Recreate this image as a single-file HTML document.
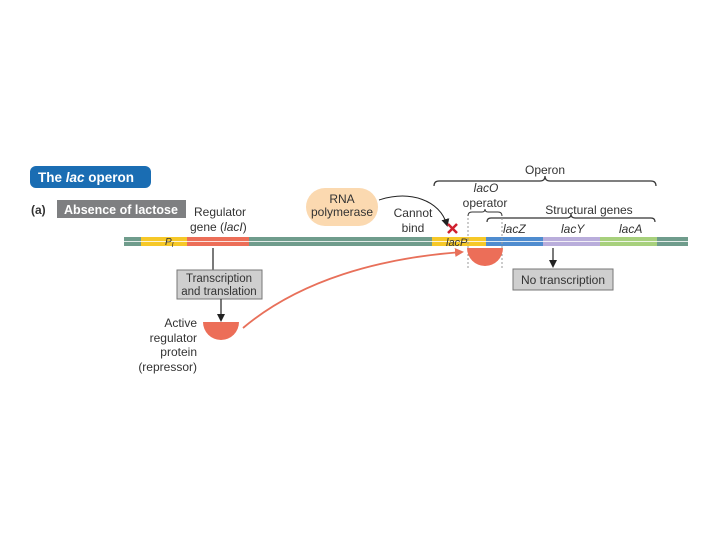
<!DOCTYPE html>
<html><head><style>
body{margin:0;background:#fff;width:720px;height:540px;overflow:hidden}
svg text{font-family:"Liberation Sans",sans-serif;}
</style></head><body>
<svg width="720" height="540" viewBox="0 0 720 540" xmlns="http://www.w3.org/2000/svg">
<defs>
<marker id="ab" markerWidth="8" markerHeight="8" refX="6" refY="4" orient="auto" markerUnits="userSpaceOnUse"><path d="M0,0 L8,4 L0,8 z" fill="#222"/></marker>
<marker id="ar" markerWidth="9" markerHeight="9" refX="7" refY="4.5" orient="auto" markerUnits="userSpaceOnUse"><path d="M0,0 L9,4.5 L0,9 z" fill="#e8705a"/></marker>
</defs>
<rect x="30" y="166" width="121" height="22" rx="6" fill="#1a6db3"/>
<text x="38" y="182" font-size="13.5" font-weight="bold" fill="#fff">The <tspan font-style="italic">lac</tspan> operon</text>
<text x="31" y="214" font-size="12" font-weight="bold" fill="#333">(a)</text>
<rect x="57" y="200" width="129" height="18" fill="#7e7f81"/>
<text x="121" y="214" font-size="12.5" font-weight="bold" fill="#fff" text-anchor="middle">Absence of lactose</text>
<text x="194" y="216" font-size="12" fill="#333">Regulator</text>
<text x="190" y="231" font-size="12" fill="#333">gene (<tspan font-style="italic">lacI</tspan>)</text>
<!-- DNA -->
<rect x="124" y="237" width="564" height="9" fill="#6f9c8c"/>
<rect x="141" y="237" width="46" height="9" fill="#f6c828"/>
<rect x="187" y="237" width="62" height="9" fill="#ec6e58"/>
<rect x="432" y="237" width="54" height="9" fill="#f6c828"/>
<rect x="486" y="237" width="57" height="9" fill="#4f8ccf"/>
<rect x="543" y="237" width="57" height="9" fill="#b9addb"/>
<rect x="600" y="237" width="57" height="9" fill="#a7d07c"/>
<line x1="124" y1="241.5" x2="688" y2="241.5" stroke="#fff" stroke-width="1" opacity="0.8"/>
<text x="165" y="245" font-size="10" font-style="italic" fill="#333">P<tspan font-size="7" dy="2">I</tspan></text>
<text x="446" y="246" font-size="11" font-style="italic" fill="#333">lacP</text>
<text x="503" y="233" font-size="12" font-style="italic" fill="#333">lacZ</text>
<text x="561" y="233" font-size="12" font-style="italic" fill="#333">lacY</text>
<text x="619" y="233" font-size="12" font-style="italic" fill="#333">lacA</text>
<!-- left flow -->
<line x1="213" y1="248" x2="213" y2="270" stroke="#222" stroke-width="1.2"/>
<rect x="177" y="270" width="85" height="29" fill="#cfcfcf" stroke="#777"/>
<text x="219" y="282" font-size="11.5" fill="#333" text-anchor="middle">Transcription</text>
<text x="219" y="295" font-size="11.5" fill="#333" text-anchor="middle">and translation</text>
<line x1="221" y1="299" x2="221" y2="320" stroke="#222" stroke-width="1.2" marker-end="url(#ab)"/>
<path d="M203,322 L239,322 A18,18 0 0 1 203,322 z" fill="#ec6e58"/>
<g font-size="12" fill="#333" text-anchor="end">
<text x="197" y="327">Active</text><text x="197" y="342">regulator</text><text x="197" y="356">protein</text><text x="197" y="371">(repressor)</text></g>
<path d="M243,328 C300,280 380,258 462,252" fill="none" stroke="#e8705a" stroke-width="1.8" marker-end="url(#ar)"/>
<!-- RNA pol -->
<rect x="306" y="188" width="72" height="38" rx="19" fill="#fbd9b0"/>
<text x="342" y="203" font-size="12" fill="#333" text-anchor="middle">RNA</text>
<text x="342" y="216" font-size="12" fill="#333" text-anchor="middle">polymerase</text>
<path d="M379,200 C410,190 440,200 447,225" fill="none" stroke="#222" stroke-width="1" marker-end="url(#ab)"/>
<text x="413" y="217" font-size="12" fill="#333" text-anchor="middle">Cannot</text>
<text x="413" y="232" font-size="12" fill="#333" text-anchor="middle">bind</text>
<path d="M448,224 L457,233 M457,224 L448,233" stroke="#d0202e" stroke-width="2.5"/>
<!-- operon brace -->
<path d="M434,186 Q434,181 439,181 L540,181 Q545,181 545,176 Q545,181 550,181 L651,181 Q656,181 656,186" fill="none" stroke="#333" stroke-width="1.2"/>
<text x="545" y="174" font-size="12" fill="#333" text-anchor="middle">Operon</text>
<text x="486" y="192" font-size="12" font-style="italic" fill="#333" text-anchor="middle">lacO</text>
<text x="485" y="207" font-size="12" fill="#333" text-anchor="middle">operator</text>
<path d="M468,216 Q468,212 472,212 L482,212 Q485,212 485,209 Q485,212 488,212 L498,212 Q502,212 502,216" fill="none" stroke="#333" stroke-width="1"/>
<path d="M487,222 Q487,218 491,218 L567,218 Q571,218 571,214 Q571,218 575,218 L651,218 Q655,218 655,222" fill="none" stroke="#333" stroke-width="1.2"/>
<text x="589" y="214" font-size="12" fill="#333" text-anchor="middle">Structural genes</text>
<line x1="468" y1="218" x2="468" y2="268" stroke="#999" stroke-dasharray="2,2"/>
<line x1="502" y1="218" x2="502" y2="268" stroke="#999" stroke-dasharray="2,2"/>
<path d="M467,248 L503,248 A18,18 0 0 1 467,248 z" fill="#ec6e58"/>
<line x1="553" y1="248" x2="553" y2="266" stroke="#222" stroke-width="1.2" marker-end="url(#ab)"/>
<rect x="513" y="269" width="100" height="21" fill="#cfcfcf" stroke="#777"/>
<text x="563" y="284" font-size="12" fill="#333" text-anchor="middle">No transcription</text>
</svg>
</body></html>
